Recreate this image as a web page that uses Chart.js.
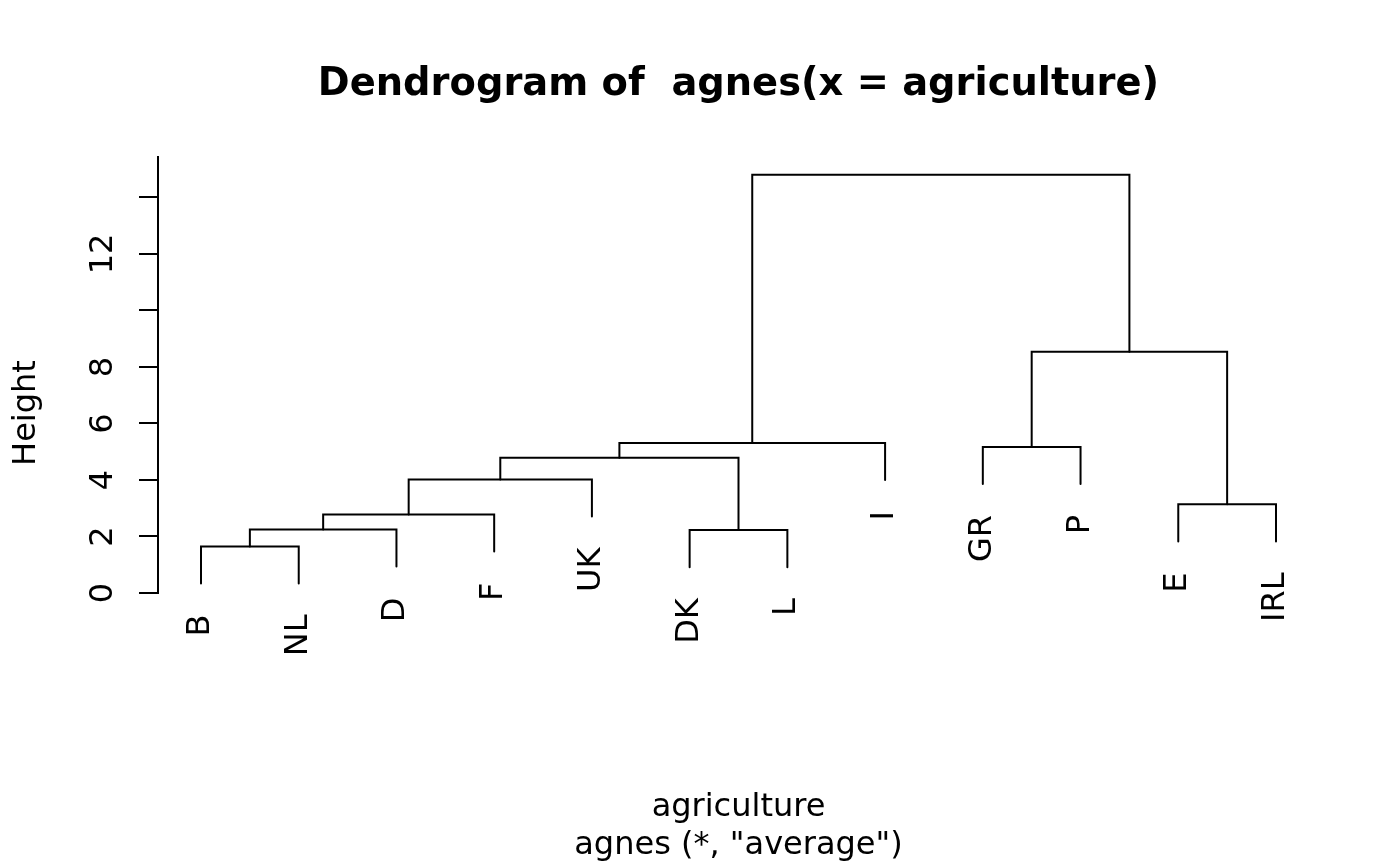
<!DOCTYPE html>
<html>
<head>
<meta charset="utf-8">
<title>Dendrogram of agnes(x = agriculture)</title>
<script src="https://cdn.jsdelivr.net/npm/chart.js@4.4.0/dist/chart.umd.min.js"></script>
<style>
  html, body { margin: 0; padding: 0; background: #fff; }
  #wrap { width: 1400px; height: 866px; }
</style>
</head>
<body>
<div id="wrap"><canvas id="dend"></canvas></div>
<script>
// leaves in plotting order
const leaves = ['B', 'NL', 'D', 'F', 'UK', 'DK', 'L', 'I', 'GR', 'P', 'E', 'IRL'];

// merge steps like R's merge matrix: a name is a leaf, a number is an earlier step (1-based)
const mergeLeft   = ['B', 1, 'DK', 2, 'E', 4, 6, 'GR', 7, 8, 9];
const mergeRight  = ['NL', 'D', 'L', 'F', 'IRL', 'UK', 3, 'P', 'I', 5, 10];
const mergeHeight = [1.65, 2.25, 2.23, 2.78, 3.14, 4.02, 4.79, 5.17, 5.31, 8.54, 14.8];

// y axis
const tickValues = [0, 2, 4, 6, 8, 10, 12, 14];
const tickLabels = ['0', '2', '4', '6', '8', '', '12', ''];

const FONT = '"DejaVu Sans", sans-serif';

// hang = 0.1 of the range of heights, like plot.hclust
const hang = 0.1 * (Math.max(...mergeHeight) - Math.min(...mergeHeight));

// work out node positions from the merges
const leafX = {};
leaves.forEach((l, i) => leafX[l] = i + 1);
const leafTop = {};   // where each leaf line stops
const stepX = [];

function nodeX(n) {
  return typeof n === 'string' ? leafX[n] : stepX[n - 1];
}

mergeLeft.forEach((a, k) => {
  const b = mergeRight[k];
  [a, b].forEach(n => {
    if (typeof n === 'string') leafTop[n] = mergeHeight[k] - hang;
  });
  stepX.push((nodeX(a) + nodeX(b)) / 2);
});

function nodeY(n) {
  return typeof n === 'string' ? leafTop[n] : mergeHeight[n - 1];
}

const datasets = mergeLeft.map((a, k) => {
  const b = mergeRight[k];
  const h = mergeHeight[k];
  return {
    data: [
      { x: nodeX(a), y: nodeY(a) },
      { x: nodeX(a), y: h },
      { x: nodeX(b), y: h },
      { x: nodeX(b), y: nodeY(b) }
    ],
    showLine: true,
    borderColor: '#000',
    borderWidth: 2,
    borderCapStyle: 'round',
    pointRadius: 0,
    fill: false,
    tension: 0
  };
});

// R extends the x range by 4%
const xPad = 0.04 * (leaves.length - 1);

const rText = {
  id: 'rText',
  afterDraw(chart) {
    const ctx = chart.ctx;
    const xs = chart.scales.x, ys = chart.scales.y;
    const area = chart.chartArea;
    const cx = (area.left + area.right) / 2;
    ctx.save();
    ctx.fillStyle = '#000';

    // title
    ctx.font = 'bold 38.4px ' + FONT;
    ctx.textAlign = 'center';
    ctx.textBaseline = 'alphabetic';
    ctx.fillText('Dendrogram of  agnes(x = agriculture)', cx, 95);

    // bottom labels
    ctx.font = '32px ' + FONT;
    ctx.fillText('agriculture', cx, 816);
    ctx.fillText('agnes (*, "average")', cx, 854);

    // y title
    ctx.save();
    ctx.translate(35, (area.top + 669) / 2);
    ctx.rotate(-Math.PI / 2);
    ctx.fillText('Height', 0, 0);
    ctx.restore();

    // y tick labels
    tickValues.forEach((v, i) => {
      if (!tickLabels[i]) return;
      ctx.save();
      ctx.translate(112, ys.getPixelForValue(v));
      ctx.rotate(-Math.PI / 2);
      ctx.textAlign = 'center';
      ctx.fillText(tickLabels[i], 0, 0);
      ctx.restore();
    });

    // leaf labels
    leaves.forEach(l => {
      ctx.save();
      ctx.translate(xs.getPixelForValue(leafX[l]) + 8, ys.getPixelForValue(leafTop[l]) + 31);
      ctx.rotate(-Math.PI / 2);
      ctx.textAlign = 'right';
      ctx.fillText(l, 0, 0);
      ctx.restore();
    });

    ctx.restore();
  }
};

new Chart(document.getElementById('dend'), {
  type: 'scatter',
  data: { datasets: datasets },
  options: {
    responsive: true,
    maintainAspectRatio: false,
    animation: false,
    events: [],
    layout: { padding: { left: 139, right: 81, top: 157, bottom: 273 } },
    plugins: {
      legend: { display: false },
      title: { display: false },
      tooltip: { enabled: false }
    },
    scales: {
      x: {
        type: 'linear',
        display: false,
        min: 1 - xPad,
        max: leaves.length + xPad
      },
      y: {
        type: 'linear',
        min: 0,
        max: 15.43,
        afterBuildTicks: s => { s.ticks = tickValues.map(v => ({ value: v })); },
        afterFit: s => { s.width = 19; },
        ticks: { display: false },
        grid: {
          display: true,
          drawOnChartArea: false,
          drawTicks: true,
          tickLength: 19,
          color: '#000',
          lineWidth: 2
        },
        border: { display: true, color: '#000', width: 2 }
      }
    }
  },
  plugins: [rText]
});
</script>
</body>
</html>
